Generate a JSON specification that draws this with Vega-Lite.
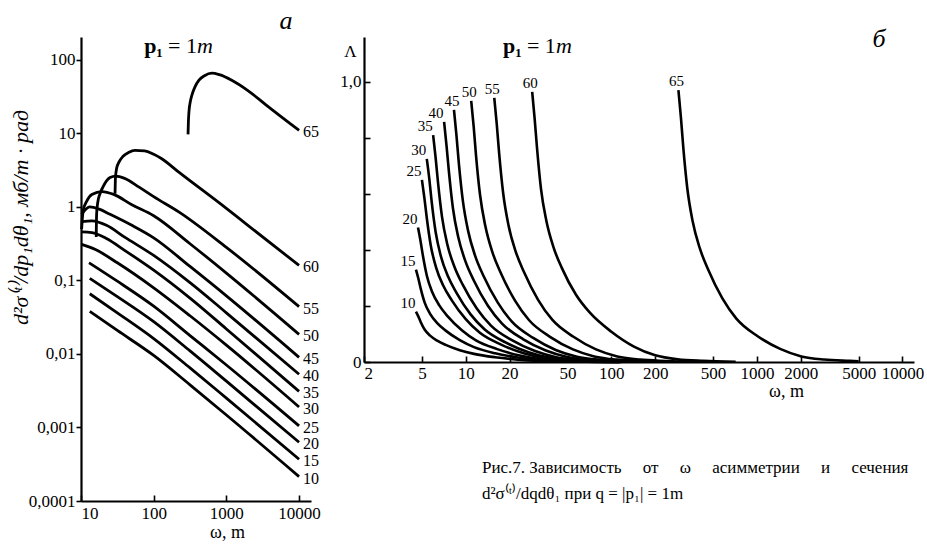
{
  "$schema": "https://vega.github.io/schema/vega-lite/v6.json",
  "background": "white",
  "padding": {"left": 9, "top": 8, "right": 0, "bottom": 0},
  "bounds": "flush",
  "spacing": 53,
  "config": {
    "view": {"stroke": null},
    "font": "Liberation Serif",
    "axis": {"grid": false, "domainColor": "black", "domainWidth": 2.2, "tickColor": "black", "tickWidth": 1.6, "labelColor": "black", "labelFont": "Liberation Serif", "labelFontSize": 17, "titleColor": "black", "titleFont": "Liberation Serif", "titleFontSize": 18, "titleFontWeight": "normal", "labelOverlap": false},
    "text": {"font": "Liberation Serif", "color": "black"},
    "title": {"font": "Liberation Serif", "color": "black", "fontWeight": "normal"}
  },
  "datasets": {
    "L": [
      {"c":10,"w":13.2,"v":0.038},{"c":10,"w":31.6,"v":0.0209},{"c":10,"w":100,"v":0.00955},{"c":10,"w":316,"v":0.0038},{"c":10,"w":1000,"v":0.00148},{"c":10,"w":10000,"v":0.000215},
      {"c":15,"w":13.2,"v":0.066},{"c":15,"w":31.6,"v":0.0363},{"c":15,"w":100,"v":0.0162},{"c":15,"w":316,"v":0.00646},{"c":15,"w":1000,"v":0.00251},{"c":15,"w":10000,"v":0.00037},
      {"c":20,"w":13.2,"v":0.107},{"c":20,"w":31.6,"v":0.0603},{"c":20,"w":100,"v":0.0275},{"c":20,"w":316,"v":0.011},{"c":20,"w":1000,"v":0.00427},{"c":20,"w":10000,"v":0.00063},
      {"c":25,"w":12.9,"v":0.174},{"c":25,"w":31.6,"v":0.0977},{"c":25,"w":100,"v":0.0447},{"c":25,"w":316,"v":0.0178},{"c":25,"w":1000,"v":0.00708},{"c":25,"w":10000,"v":0.00105},
      {"c":30,"w":10.2,"v":0.309},{"c":30,"w":15.8,"v":0.263},{"c":30,"w":31.6,"v":0.174},{"c":30,"w":100,"v":0.0794},{"c":30,"w":316,"v":0.0331},{"c":30,"w":1000,"v":0.0132},{"c":30,"w":10000,"v":0.0019},
      {"c":35,"w":10.2,"v":0.457},{"c":35,"w":14.1,"v":0.447},{"c":35,"w":22.4,"v":0.372},{"c":35,"w":39.8,"v":0.257},{"c":35,"w":100,"v":0.138},{"c":35,"w":316,"v":0.0575},{"c":35,"w":1000,"v":0.0219},{"c":35,"w":10000,"v":0.0031},
      {"c":40,"w":10.2,"v":0.631},{"c":40,"w":14.1,"v":0.646},{"c":40,"w":22.4,"v":0.562},{"c":40,"w":39.8,"v":0.389},{"c":40,"w":100,"v":0.219},{"c":40,"w":316,"v":0.0933},{"c":40,"w":1000,"v":0.0363},{"c":40,"w":10000,"v":0.0053},
      {"c":45,"w":10.2,"v":0.794},{"c":45,"w":13.2,"v":1.0},{"c":45,"w":17.8,"v":0.933},{"c":45,"w":25.1,"v":0.794},{"c":45,"w":50.1,"v":0.562},{"c":45,"w":100,"v":0.38},{"c":45,"w":316,"v":0.155},{"c":45,"w":1000,"v":0.0617},{"c":45,"w":10000,"v":0.009},
      {"c":50,"w":10.2,"v":0.501},{"c":50,"w":10.7,"v":0.891},{"c":50,"w":12.0,"v":1.2},{"c":50,"w":14.1,"v":1.48},{"c":50,"w":19.5,"v":1.62},{"c":50,"w":28.2,"v":1.48},{"c":50,"w":50.1,"v":1.07},{"c":50,"w":100,"v":0.759},{"c":50,"w":316,"v":0.316},{"c":50,"w":1000,"v":0.126},{"c":50,"w":10000,"v":0.0185},
      {"c":55,"w":16.2,"v":0.389},{"c":55,"w":16.4,"v":0.8},{"c":55,"w":17.0,"v":1.15},{"c":55,"w":18.2,"v":1.5},{"c":55,"w":20,"v":1.86},{"c":55,"w":25.1,"v":2.51},{"c":55,"w":30,"v":2.63},{"c":55,"w":39.8,"v":2.45},{"c":55,"w":63,"v":1.86},{"c":55,"w":100,"v":1.38},{"c":55,"w":224,"v":0.851},{"c":55,"w":1000,"v":0.282},{"c":55,"w":10000,"v":0.044},
      {"c":60,"w":29.4,"v":1.51},{"c":60,"w":29.8,"v":2.5},{"c":60,"w":31.0,"v":3.4},{"c":60,"w":33,"v":4.0},{"c":60,"w":38,"v":4.9},{"c":60,"w":45,"v":5.5},{"c":60,"w":55,"v":5.9},{"c":60,"w":75,"v":5.8},{"c":60,"w":100,"v":5.2},{"c":60,"w":126,"v":4.6},{"c":60,"w":224,"v":2.95},{"c":60,"w":1000,"v":0.955},{"c":60,"w":1862,"v":0.589},{"c":60,"w":10000,"v":0.16},
      {"c":65,"w":297,"v":9.7},{"c":65,"w":300,"v":14},{"c":65,"w":306,"v":20},{"c":65,"w":318,"v":26.5},{"c":65,"w":335,"v":33},{"c":65,"w":370,"v":43},{"c":65,"w":420,"v":53},{"c":65,"w":500,"v":61},{"c":65,"w":631,"v":66},{"c":65,"w":800,"v":63},{"c":65,"w":1202,"v":52.5},{"c":65,"w":2000,"v":38},{"c":65,"w":3500,"v":24.5},{"c":65,"w":10000,"v":11}
    ],
    "R": [
      {"c":10,"w":4.55,"l":0.18},{"c":10,"w":4.73,"l":0.162},{"c":10,"w":4.91,"l":0.142},{"c":10,"w":5.23,"l":0.115},{"c":10,"w":5.69,"l":0.094},{"c":10,"w":6.37,"l":0.076},{"c":10,"w":7.28,"l":0.061},{"c":10,"w":9.1,"l":0.042},{"c":10,"w":11.4,"l":0.029},{"c":10,"w":15.9,"l":0.017},{"c":10,"w":22.8,"l":0.0086},{"c":10,"w":31.9,"l":0.0038},{"c":10,"w":45.5,"l":0.0016},{"c":10,"w":68.3,"l":0.0007},{"c":10,"w":114,"l":0.0002},
      {"c":15,"w":4.55,"l":0.33},{"c":15,"w":4.73,"l":0.297},{"c":15,"w":4.91,"l":0.261},{"c":15,"w":5.23,"l":0.211},{"c":15,"w":5.69,"l":0.172},{"c":15,"w":6.37,"l":0.139},{"c":15,"w":7.28,"l":0.112},{"c":15,"w":9.1,"l":0.078},{"c":15,"w":11.4,"l":0.053},{"c":15,"w":15.9,"l":0.031},{"c":15,"w":22.8,"l":0.016},{"c":15,"w":31.9,"l":0.0069},{"c":15,"w":45.5,"l":0.003},{"c":15,"w":68.3,"l":0.0013},{"c":15,"w":114,"l":0.0003},
      {"c":20,"w":4.7,"l":0.48},{"c":20,"w":4.89,"l":0.432},{"c":20,"w":5.08,"l":0.379},{"c":20,"w":5.41,"l":0.307},{"c":20,"w":5.88,"l":0.25},{"c":20,"w":6.58,"l":0.202},{"c":20,"w":7.52,"l":0.163},{"c":20,"w":9.4,"l":0.113},{"c":20,"w":11.75,"l":0.077},{"c":20,"w":16.45,"l":0.046},{"c":20,"w":23.5,"l":0.023},{"c":20,"w":32.9,"l":0.01},{"c":20,"w":47,"l":0.0043},{"c":20,"w":70.5,"l":0.0019},{"c":20,"w":117.5,"l":0.0005},
      {"c":25,"w":5.0,"l":0.65},{"c":25,"w":5.2,"l":0.585},{"c":25,"w":5.4,"l":0.514},{"c":25,"w":5.75,"l":0.416},{"c":25,"w":6.25,"l":0.338},{"c":25,"w":7.0,"l":0.273},{"c":25,"w":8.0,"l":0.221},{"c":25,"w":10,"l":0.153},{"c":25,"w":12.5,"l":0.104},{"c":25,"w":17.5,"l":0.062},{"c":25,"w":25,"l":0.031},{"c":25,"w":35,"l":0.0137},{"c":25,"w":50,"l":0.0059},{"c":25,"w":75,"l":0.0026},{"c":25,"w":125,"l":0.00065},
      {"c":30,"w":5.4,"l":0.725},{"c":30,"w":5.62,"l":0.653},{"c":30,"w":5.83,"l":0.573},{"c":30,"w":6.21,"l":0.464},{"c":30,"w":6.75,"l":0.377},{"c":30,"w":7.56,"l":0.305},{"c":30,"w":8.64,"l":0.247},{"c":30,"w":10.8,"l":0.17},{"c":30,"w":13.5,"l":0.116},{"c":30,"w":18.9,"l":0.069},{"c":30,"w":27,"l":0.035},{"c":30,"w":37.8,"l":0.015},{"c":30,"w":54,"l":0.0065},{"c":30,"w":81,"l":0.0029},{"c":30,"w":135,"l":0.0007},
      {"c":35,"w":5.97,"l":0.81},{"c":35,"w":6.21,"l":0.729},{"c":35,"w":6.45,"l":0.64},{"c":35,"w":6.87,"l":0.518},{"c":35,"w":7.46,"l":0.421},{"c":35,"w":8.36,"l":0.34},{"c":35,"w":9.55,"l":0.275},{"c":35,"w":11.94,"l":0.19},{"c":35,"w":14.9,"l":0.13},{"c":35,"w":20.9,"l":0.077},{"c":35,"w":29.9,"l":0.039},{"c":35,"w":41.8,"l":0.017},{"c":35,"w":59.7,"l":0.0073},{"c":35,"w":89.6,"l":0.0032},{"c":35,"w":149,"l":0.0008},
      {"c":40,"w":7.1,"l":0.857},{"c":40,"w":7.38,"l":0.771},{"c":40,"w":7.67,"l":0.677},{"c":40,"w":8.17,"l":0.548},{"c":40,"w":8.88,"l":0.446},{"c":40,"w":9.94,"l":0.36},{"c":40,"w":11.36,"l":0.291},{"c":40,"w":14.2,"l":0.201},{"c":40,"w":17.75,"l":0.137},{"c":40,"w":24.85,"l":0.081},{"c":40,"w":35.5,"l":0.041},{"c":40,"w":49.7,"l":0.018},{"c":40,"w":71,"l":0.0077},{"c":40,"w":106.5,"l":0.0034},{"c":40,"w":177.5,"l":0.0009},
      {"c":45,"w":8.3,"l":0.9},{"c":45,"w":8.63,"l":0.81},{"c":45,"w":8.96,"l":0.711},{"c":45,"w":9.55,"l":0.576},{"c":45,"w":10.38,"l":0.468},{"c":45,"w":11.62,"l":0.378},{"c":45,"w":13.28,"l":0.306},{"c":45,"w":16.6,"l":0.212},{"c":45,"w":20.75,"l":0.144},{"c":45,"w":29.05,"l":0.086},{"c":45,"w":41.5,"l":0.043},{"c":45,"w":58.1,"l":0.019},{"c":45,"w":83,"l":0.0081},{"c":45,"w":124.5,"l":0.0036},{"c":45,"w":207.5,"l":0.0009},
      {"c":50,"w":10.9,"l":0.932},{"c":50,"w":11.34,"l":0.839},{"c":50,"w":11.77,"l":0.736},{"c":50,"w":12.54,"l":0.596},{"c":50,"w":13.63,"l":0.485},{"c":50,"w":15.26,"l":0.391},{"c":50,"w":17.44,"l":0.317},{"c":50,"w":21.8,"l":0.219},{"c":50,"w":27.25,"l":0.149},{"c":50,"w":38.15,"l":0.089},{"c":50,"w":54.5,"l":0.045},{"c":50,"w":76.3,"l":0.02},{"c":50,"w":109,"l":0.0084},{"c":50,"w":163.5,"l":0.0037},{"c":50,"w":272.5,"l":0.0009},
      {"c":55,"w":15.7,"l":0.943},{"c":55,"w":16.33,"l":0.849},{"c":55,"w":16.96,"l":0.745},{"c":55,"w":18.06,"l":0.604},{"c":55,"w":19.63,"l":0.49},{"c":55,"w":21.98,"l":0.396},{"c":55,"w":25.12,"l":0.321},{"c":55,"w":31.4,"l":0.222},{"c":55,"w":39.25,"l":0.151},{"c":55,"w":54.95,"l":0.09},{"c":55,"w":78.5,"l":0.045},{"c":55,"w":109.9,"l":0.02},{"c":55,"w":157,"l":0.0085},{"c":55,"w":235.5,"l":0.0038},{"c":55,"w":392.5,"l":0.0009},
      {"c":60,"w":28.6,"l":0.964},{"c":60,"w":29.74,"l":0.868},{"c":60,"w":30.89,"l":0.762},{"c":60,"w":32.89,"l":0.617},{"c":60,"w":35.75,"l":0.505},{"c":60,"w":40.04,"l":0.41},{"c":60,"w":45.76,"l":0.335},{"c":60,"w":57.2,"l":0.24},{"c":60,"w":71.5,"l":0.175},{"c":60,"w":100.1,"l":0.108},{"c":60,"w":143,"l":0.055},{"c":60,"w":200.2,"l":0.024},{"c":60,"w":286,"l":0.0095},{"c":60,"w":429,"l":0.004},{"c":60,"w":715,"l":0.001},
      {"c":65,"w":289,"l":0.97},{"c":65,"w":300.6,"l":0.873},{"c":65,"w":312.1,"l":0.766},{"c":65,"w":332.4,"l":0.621},{"c":65,"w":361.3,"l":0.504},{"c":65,"w":404.6,"l":0.407},{"c":65,"w":462.4,"l":0.33},{"c":65,"w":578,"l":0.228},{"c":65,"w":722.5,"l":0.155},{"c":65,"w":1011.5,"l":0.092},{"c":65,"w":1445,"l":0.047},{"c":65,"w":2023,"l":0.02},{"c":65,"w":2890,"l":0.0087},{"c":65,"w":4335,"l":0.0039},{"c":65,"w":5000,"l":0.0025}
    ]
  },
  "hconcat": [
    {
      "width": 230,
      "height": 464,
      "layer": [
        {
          "data": {"name": "L"},
          "mark": {"type": "line", "color": "black", "strokeWidth": 2.8, "interpolate": "monotone"},
          "encoding": {
            "x": {"field": "w", "type": "quantitative", "scale": {"type": "log", "domain": [10, 14600], "nice": false},
                  "axis": {"values": [10, 100, 1000, 10000], "labelExpr": "format(datum.value, '~g')", "tickSize": -6, "labelPadding": 10, "title": "ω, m", "titleX": 146, "titleY": 31, "titleAlign": "center", "titleBaseline": "middle"}},
            "y": {"field": "v", "type": "quantitative", "scale": {"type": "log", "domain": [0.0001, 205], "nice": false},
                  "axis": {"values": [0.0001, 0.001, 0.01, 0.1, 1, 10, 100], "labelExpr": "replace(format(datum.value, '~g'), '.', ',')", "tickSize": 5, "labelPadding": 1, "title": "d²σ⁽ᵗ⁾/dp₁dθ₁, мб/m · рад", "titleFontStyle": "italic", "titleFontSize": 22, "titleAngle": 270, "titleX": -61, "titleY": 180, "titleAlign": "center", "titleBaseline": "middle"}},
            "detail": {"field": "c", "type": "nominal"}
          }
        },
        {
          "data": {"name": "L"},
          "transform": [
            {"joinaggregate": [{"op": "max", "field": "w", "as": "mw"}], "groupby": ["c"]},
            {"filter": "datum.w == datum.mw"}
          ],
          "mark": {"type": "text", "align": "left", "baseline": "middle", "dx": 4, "dy": 2, "fontSize": 16},
          "encoding": {
            "x": {"field": "w", "type": "quantitative"},
            "y": {"field": "v", "type": "quantitative"},
            "text": {"field": "c", "type": "nominal"}
          }
        },
        {
          "data": {"values": [{}]},
          "mark": {"type": "text", "text": "p₁", "align": "right", "baseline": "middle", "dx": -2, "fontSize": 22, "fontWeight": "bold"},
          "encoding": {"x": {"datum": 143, "type": "quantitative"}, "y": {"datum": 155, "type": "quantitative"}}
        },
        {
          "data": {"values": [{}]},
          "mark": {"type": "text", "text": "= 1", "align": "left", "baseline": "middle", "dx": 3, "fontSize": 22},
          "encoding": {"x": {"datum": 143, "type": "quantitative"}, "y": {"datum": 155, "type": "quantitative"}}
        },
        {
          "data": {"values": [{}]},
          "mark": {"type": "text", "text": "m", "align": "left", "baseline": "middle", "dx": 32, "fontSize": 22, "fontStyle": "italic"},
          "encoding": {"x": {"datum": 143, "type": "quantitative"}, "y": {"datum": 155, "type": "quantitative"}}
        },
        {
          "data": {"values": [{}]},
          "mark": {"type": "text", "text": "a", "align": "center", "baseline": "middle", "fontSize": 26, "fontStyle": "italic"},
          "encoding": {"x": {"datum": 6620, "type": "quantitative"}, "y": {"datum": 338, "type": "quantitative"}}
        }
      ]
    },
    {
      "width": 550,
      "height": 325,
      "title": {
        "text": ["Рис.7. Зависимость\u2003\u2005от\u2003\u2005ω\u2003\u2005асимметрии\u2003\u2005и\u2003\u2005сечения", "d²σ⁽ᵗ⁾/dqdθ₁ при q = |p₁| = 1m"],
        "orient": "bottom", "anchor": "start", "frame": "group", "dx": 118, "offset": 60,
        "fontSize": 17, "lineHeight": 26, "font": "Liberation Serif", "fontWeight": "normal", "color": "black"
      },
      "layer": [
        {
          "data": {"name": "R"},
          "mark": {"type": "line", "color": "black", "strokeWidth": 2.6, "interpolate": "monotone"},
          "encoding": {
            "x": {"field": "w", "type": "quantitative", "scale": {"type": "log", "domain": [2, 12000], "nice": false},
                  "axis": {"values": [2, 5, 10, 20, 50, 100, 200, 500, 1000, 2000, 5000, 10000], "labelExpr": "format(datum.value, '~g')", "tickSize": -6, "labelPadding": 9, "title": "ω, m", "titleX": 422, "titleY": 29, "titleAlign": "center", "titleBaseline": "middle"}},
            "y": {"field": "l", "type": "quantitative", "scale": {"domain": [0, 1.16], "nice": false, "zero": false},
                  "axis": {"values": [0, 0.1, 0.2, 0.3, 0.4, 0.5, 0.6, 0.7, 0.8, 0.9, 1.0], "labelExpr": "datum.value == 0 ? '0' : abs(datum.value - 0.5) < 0.001 ? '0,5' : abs(datum.value - 1) < 0.001 ? '1,0' : ''", "tickSize": -6, "labelPadding": 9, "title": "Λ", "titleAngle": 0, "titleX": -14, "titleY": 14, "titleAlign": "center", "titleBaseline": "middle", "titleFontSize": 17}},
            "detail": {"field": "c", "type": "nominal"}
          }
        },
        {
          "data": {"name": "R"},
          "transform": [
            {"joinaggregate": [{"op": "min", "field": "w", "as": "mw"}], "groupby": ["c"]},
            {"filter": "datum.w == datum.mw && datum.c <= 40"}
          ],
          "mark": {"type": "text", "align": "center", "baseline": "middle", "dx": -8, "dy": -9, "fontSize": 15},
          "encoding": {
            "x": {"field": "w", "type": "quantitative"},
            "y": {"field": "l", "type": "quantitative"},
            "text": {"field": "c", "type": "nominal"}
          }
        },
        {
          "data": {"name": "R"},
          "transform": [
            {"joinaggregate": [{"op": "min", "field": "w", "as": "mw"}], "groupby": ["c"]},
            {"filter": "datum.w == datum.mw && datum.c > 40"}
          ],
          "mark": {"type": "text", "align": "center", "baseline": "middle", "dx": -2, "dy": -9, "fontSize": 15},
          "encoding": {
            "x": {"field": "w", "type": "quantitative"},
            "y": {"field": "l", "type": "quantitative"},
            "text": {"field": "c", "type": "nominal"}
          }
        },
        {
          "data": {"values": [{}]},
          "mark": {"type": "text", "text": "p₁", "align": "right", "baseline": "middle", "dx": -2, "fontSize": 22, "fontWeight": "bold"},
          "encoding": {"x": {"datum": 25.1, "type": "quantitative"}, "y": {"datum": 1.128, "type": "quantitative"}}
        },
        {
          "data": {"values": [{}]},
          "mark": {"type": "text", "text": "= 1", "align": "left", "baseline": "middle", "dx": 3, "fontSize": 22},
          "encoding": {"x": {"datum": 25.1, "type": "quantitative"}, "y": {"datum": 1.128, "type": "quantitative"}}
        },
        {
          "data": {"values": [{}]},
          "mark": {"type": "text", "text": "m", "align": "left", "baseline": "middle", "dx": 32, "fontSize": 22, "fontStyle": "italic"},
          "encoding": {"x": {"datum": 25.1, "type": "quantitative"}, "y": {"datum": 1.128, "type": "quantitative"}}
        },
        {
          "data": {"values": [{}]},
          "mark": {"type": "text", "text": "б", "align": "center", "baseline": "middle", "fontSize": 26, "fontStyle": "italic"},
          "encoding": {"x": {"datum": 6900, "type": "quantitative"}, "y": {"datum": 1.153, "type": "quantitative"}}
        }
      ]
    }
  ]
}
